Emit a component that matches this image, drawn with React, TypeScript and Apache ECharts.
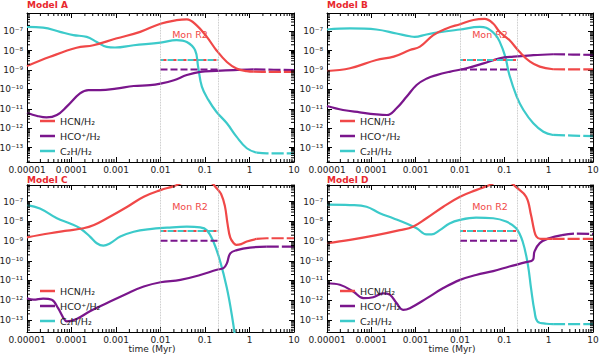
import React, { useEffect, useRef } from "react";
import * as echarts from "echarts";

type Pt = [number, number];

// ---- Model A ----
const HCN_A: Pt[] = [[1e-5,1.6e-9],[3.3e-5,4.8e-9],[1.3e-4,1.4e-8],[3.1e-4,1.9e-8],[1e-3,4.2e-8],[3.5e-3,9.3e-8],[1e-2,2.45e-7],[2.3e-2,3.7e-7],[3.9e-2,4.1e-7],[6.5e-2,2.0e-7],[0.11,5.1e-8],[0.18,1.05e-8],[0.31,2.6e-9],[0.51,1.2e-9],[0.87,8.7e-10],[1.25,8.2e-10],[2.45,8.1e-10],[10,8.1e-10]];
const C2H_A: Pt[] = [[1e-5,1.66e-7],[2.3e-5,1.55e-7],[5.5e-5,9.3e-8],[1.1e-4,6.3e-8],[2.2e-4,5.1e-8],[3.7e-4,2.8e-8],[6.2e-4,1.55e-8],[9.5e-4,1.45e-8],[2.5e-3,1.9e-8],[1e-2,2.6e-8],[2.3e-2,3.5e-8],[3.9e-2,2.8e-8],[6e-2,1.05e-8],[7e-2,1.5e-9],[8.5e-2,1.4e-10],[0.12,2.8e-11],[0.18,7.1e-12],[0.31,1.8e-12],[0.51,3.7e-13],[0.87,9.3e-14],[1.45,5.5e-14],[2.45,5.1e-14],[10,5.1e-14]];
const HCOP_A: Pt[] = [[1e-5,6.3e-12],[1.7e-5,4.3e-12],[2.75e-5,3.6e-12],[4.7e-5,4.8e-12],[7.8e-5,1.3e-11],[1.55e-4,6.2e-11],[2.4e-4,9.3e-11],[4.4e-4,9.3e-11],[1e-3,1.1e-10],[2.5e-3,1.5e-10],[5.8e-3,1.65e-10],[1e-2,2.0e-10],[2e-2,3.0e-10],[3.9e-2,5.5e-10],[7.8e-2,8.1e-10],[0.18,9.1e-10],[0.44,1.0e-9],[1.23,1.07e-9],[10,1.0e-9]];

// ---- Model B ----
const HCN_B: Pt[] = [[1e-5,8.9e-10],[3.3e-5,1.23e-9],[1.3e-4,3.3e-9],[3.2e-4,4.9e-9],[7.4e-4,1.07e-8],[1.25e-3,1.6e-8],[2.5e-3,6.3e-8],[5e-3,1.4e-7],[1e-2,2.3e-7],[2e-2,3.8e-7],[3.6e-2,4.3e-7],[5.6e-2,2.5e-7],[7.8e-2,9.3e-8],[0.13,3.5e-8],[0.22,8.7e-9],[0.38,2.7e-9],[0.63,1.5e-9],[1.26,1.1e-9],[10,1.07e-9]];
const C2H_B: Pt[] = [[1e-5,1.23e-7],[3.3e-5,1.4e-7],[1.3e-4,1.23e-7],[3.7e-4,7.6e-8],[7.4e-4,5.5e-8],[9.5e-4,5.1e-8],[1.75e-3,6.8e-8],[3.5e-3,8.9e-8],[1e-2,1.23e-7],[2.8e-2,1.66e-7],[3.9e-2,1.5e-7],[6.2e-2,6.8e-8],[7.8e-2,3.0e-8],[0.105,4.9e-9],[0.13,5.5e-10],[0.19,4.3e-11],[0.27,8.7e-12],[0.45,1.8e-12],[0.76,6.6e-13],[1.26,4.5e-13],[10,3.9e-13]];
const HCOP_B: Pt[] = [[1e-5,1.4e-11],[2.3e-5,8.7e-12],[5.5e-5,6.6e-12],[1.3e-4,5.2e-12],[2.25e-4,4.8e-12],[3.7e-4,1.07e-11],[6.3e-4,4.3e-11],[1.05e-3,1.7e-10],[1.8e-3,3.7e-10],[2.95e-3,5.5e-10],[5.8e-3,8.1e-10],[1.4e-2,1.23e-9],[3.4e-2,2.2e-9],[7.8e-2,4.0e-9],[0.16,4.9e-9],[0.45,5.8e-9],[1.26,6.5e-9],[10,6.0e-9]];

// ---- Model C ----
const HCN_C: Pt[] = [[1e-5,1.55e-9],[3.3e-5,2.5e-9],[8e-5,3.4e-9],[1.85e-4,4.5e-9],[3.2e-4,6.6e-9],[6.3e-4,1.45e-8],[1.8e-3,5.6e-8],[4.2e-3,1.8e-7],[1e-2,3.9e-7],[2e-2,6.2e-7],[3.5e-2,1.0e-6],[7.8e-2,1.26e-6],[0.14,8.9e-7],[0.18,5.0e-7],[0.23,2.5e-7],[0.28,6e-8],[0.32,8e-9],[0.37,1.5e-9],[0.45,7.5e-10],[0.5,6.5e-10],[0.65,7e-10],[0.87,9.5e-10],[1.45,1.3e-9],[2.45,1.4e-9],[10,1.4e-9]];
const C2H_C: Pt[] = [[1e-5,6.8e-8],[1.95e-5,4.6e-8],[4.7e-5,1.45e-8],[9.3e-5,7.9e-9],[1.55e-4,4.5e-9],[2.6e-4,1.7e-9],[3.7e-4,7.8e-10],[5.2e-4,5.9e-10],[7.4e-4,7.8e-10],[1.25e-3,1.7e-9],[2.5e-3,3.0e-9],[5.8e-3,4.1e-9],[1.4e-2,4.8e-9],[3.9e-2,5.4e-9],[7.8e-2,5.0e-9],[0.11,3.6e-9],[0.155,9.3e-10],[0.22,9.1e-11],[0.31,4.1e-12],[0.4,1.8e-13],[0.52,3.2e-15]];
const HCOP_C: Pt[] = [[1e-5,1.26e-12],[1.4e-5,1.05e-12],[2.3e-5,1.2e-12],[3.6e-5,1.05e-12],[5e-5,3.9e-13],[6.6e-5,1.23e-13],[7.8e-5,8.3e-14],[1.3e-4,1.1e-13],[2.6e-4,2.7e-13],[6.3e-4,7.1e-13],[1.8e-3,2.2e-12],[4.2e-3,4.9e-12],[1e-2,8.1e-12],[2.8e-2,1.07e-11],[7.8e-2,1.9e-11],[0.185,3.5e-11],[0.26,4.2e-11],[0.31,7.4e-11],[0.37,2.4e-10],[0.52,3.5e-10],[1.02,4.7e-10],[2.45,5.2e-10],[10,5.2e-10]];

// ---- Model D ----
const HCN_D: Pt[] = [[1e-5,7.8e-10],[3.3e-5,1.15e-9],[1.3e-4,2.0e-9],[4.4e-4,3.6e-9],[8.7e-4,5.4e-9],[1.75e-3,1.45e-8],[4.2e-3,5.6e-8],[1e-2,1.8e-7],[2.3e-2,3.9e-7],[4.7e-2,7.1e-7],[7.8e-2,1.1e-6],[0.14,9.0e-7],[0.18,5.8e-7],[0.31,1.8e-7],[0.4,2.1e-8],[0.47,3.6e-9],[0.53,1.7e-9],[0.66,1.3e-9],[1.23,1.3e-9],[10,1.3e-9]];
const C2H_D: Pt[] = [[1e-5,7.2e-8],[3.3e-5,6.8e-8],[7.8e-5,5.6e-8],[1.55e-4,2.6e-8],[3.1e-4,1.45e-8],[6.2e-4,7.9e-9],[1.05e-3,4.5e-9],[1.75e-3,2.2e-9],[2.3e-3,2.2e-9],[3.5e-3,3.6e-9],[5.8e-3,7.9e-9],[1e-2,1.2e-8],[2.3e-2,1.55e-8],[5.6e-2,1.45e-8],[0.11,9.8e-9],[0.185,4.5e-9],[0.26,9.3e-10],[0.34,6.2e-11],[0.4,4.1e-12],[0.48,2.7e-13],[0.56,8.3e-14],[0.89,6.3e-14],[1.26,6.0e-14],[10,6.0e-14]];
const HCOP_D: Pt[] = [[1e-5,7.2e-12],[1.95e-5,6.0e-12],[3.9e-5,2.75e-12],[6.6e-5,1.26e-12],[1.1e-4,1.4e-12],[1.85e-4,2.2e-12],[2.6e-4,1.9e-12],[3.7e-4,7.1e-13],[5.2e-4,3.2e-13],[7.4e-4,3.9e-13],[1.8e-3,1.26e-12],[4.2e-3,4.1e-12],[1e-2,1.07e-11],[2.3e-2,1.9e-11],[5.6e-2,3.0e-11],[0.13,5.1e-11],[0.31,8.5e-11],[0.44,1.1e-10],[0.48,3.0e-10],[0.63,7.9e-10],[1.02,1.4e-9],[2.0,2.0e-9],[4.1,2.4e-9],[10,2.3e-9]];

// ---- observations (Mon R2) ----
const OBS_T = [0.01, 0.2];
const OBS_HCN = 3.3e-9;
const OBS_C2H = 3.3e-9;
const OBS_HCOP = 1.05e-9;
const REGION_T = [0.01, 0.2];

// ---- ticks / labels ----
const X_TICK_EXP = [-5, -4, -3, -2, -1, 0, 1];
const X_TICK_LABELS = ["0.00001", "0.0001", "0.001", "0.01", "0.1", "1", "10"];
const Y_TICK_EXP = [-13, -12, -11, -10, -9, -8, -7];
const Y_TICK_LABELS = ["10⁻¹³", "10⁻¹²", "10⁻¹¹", "10⁻¹⁰", "10⁻⁹", "10⁻⁸", "10⁻⁷"];
const SERIES_NAMES = ["HCN/H₂", "HCO⁺/H₂", "C₂H/H₂"];
const MODEL_TITLES = ["Model A", "Model B", "Model C", "Model D"];

const RED = "#f04848";
const PURPLE = "#7a168c";
const CYAN = "#3ccaca";
const TITLE_RED = "#e8282e";
const FONT = "DejaVu Sans";

const X_MINOR: number[] = [];
for (let e = -5; e < 1; e++) for (let k = 2; k <= 9; k++) X_MINOR.push(k * Math.pow(10, e));
const Y_MINOR: number[] = [];
for (let e = -15; e < -5; e++) for (let k = 2; k <= 9; k++) Y_MINOR.push(k * Math.pow(10, e));

const PANELS = [
  { title: MODEL_TITLES[0], hcn: HCN_A, hcop: HCOP_A, c2h: C2H_A, grid: { left: 27, top: 13, width: 267, height: 149 }, yMin: 1.82e-14, yMax: 8.7e-7, time: false },
  { title: MODEL_TITLES[1], hcn: HCN_B, hcop: HCOP_B, c2h: C2H_B, grid: { left: 327, top: 13, width: 266, height: 149 }, yMin: 1.82e-14, yMax: 8.7e-7, time: false },
  { title: MODEL_TITLES[2], hcn: HCN_C, hcop: HCOP_C, c2h: C2H_C, grid: { left: 27, top: 185, width: 267, height: 147 }, yMin: 2.4e-14, yMax: 7.1e-7, time: true },
  { title: MODEL_TITLES[3], hcn: HCN_D, hcop: HCOP_D, c2h: C2H_D, grid: { left: 327, top: 185, width: 266, height: 147 }, yMin: 2.4e-14, yMax: 7.1e-7, time: true },
];

function splitTail(d: Pt[]): [Pt[], Pt[]] {
  const i = d.findIndex((p) => p[0] >= 1.2);
  if (i < 0) return [d, []];
  return [d.slice(0, i + 1), d.slice(i)];
}

function xLabel(v: number) {
  const e = Math.round(Math.log10(v));
  const i = X_TICK_EXP.indexOf(e);
  return i >= 0 ? X_TICK_LABELS[i] : "";
}
function yLabel(v: number) {
  const e = Math.round(Math.log10(v));
  if (Math.abs(Math.log10(v) - e) > 0.01) return "";
  const i = Y_TICK_EXP.indexOf(e);
  return i >= 0 ? Y_TICK_LABELS[i] : "";
}

function buildOption() {
  const grid: any[] = [];
  const xAxis: any[] = [];
  const yAxis: any[] = [];
  const series: any[] = [];
  const legend: any[] = [];
  const graphic: any[] = [];
  const tickStyle = { color: "#000", width: 1 };

  PANELS.forEach((p, i) => {
    grid.push({ ...p.grid, containLabel: false, outerBoundsMode: "none" });
    const baseX = {
      type: "log", logBase: 10, gridIndex: i, min: 1e-5, max: 10,
      axisLine: { show: true, onZero: false, lineStyle: tickStyle },
      axisTick: { show: true, inside: true, length: 5, lineStyle: tickStyle },
      splitLine: { show: false }, minorTick: { show: false },
    };
    xAxis.push({ ...baseX, position: "bottom",
      axisLabel: { formatter: xLabel, fontSize: 9, lineHeight: 9, color: "#222", fontFamily: FONT, margin: 3, showMinLabel: true, showMaxLabel: true } });
    xAxis.push({ ...baseX, position: "top", axisLabel: { show: false } });
    const baseY = {
      type: "log", logBase: 10, gridIndex: i, min: p.yMin, max: p.yMax,
      axisLine: { show: true, onZero: false, lineStyle: tickStyle },
      axisTick: { show: true, inside: true, length: 5, lineStyle: tickStyle },
      splitLine: { show: false }, minorTick: { show: false },
    };
    yAxis.push({ ...baseY, position: "left",
      axisLabel: { formatter: yLabel, fontSize: 9, color: "#222", fontFamily: FONT, margin: 4, showMinLabel: false, showMaxLabel: false } });
    yAxis.push({ ...baseY, position: "right", axisLabel: { show: false } });

    const xi = 2 * i, yi = 2 * i;
    const curves: [string, Pt[], string][] = [
      [SERIES_NAMES[2], p.c2h, CYAN],
      [SERIES_NAMES[1], p.hcop, PURPLE],
      [SERIES_NAMES[0], p.hcn, RED],
    ];
    curves.forEach(([name, d, color], k) => {
      const [main, tail] = splitTail(d);
      const s: any = {
        type: "line", name, xAxisIndex: xi, yAxisIndex: yi, data: main,
        symbol: "none", showSymbol: false, smooth: 0.4, clip: true, silent: true, z: 2,
        color, lineStyle: { color, width: 2.2 },
      };
      if (k === 2) {
        s.markLine = {
          silent: true, symbol: ["none", "none"], label: { show: false },
          lineStyle: { color: "#b4b4b4", type: "dotted", width: 0.8 },
          emphasis: { disabled: true },
          data: REGION_T.map((t) => ({ xAxis: t })),
        };
      }
      series.push(s);
      if (tail.length > 1) {
        series.push({
          type: "line", name: name + " tail", xAxisIndex: xi, yAxisIndex: yi, data: tail,
          symbol: "none", smooth: 0.4, clip: true, silent: true, z: 2,
          color, lineStyle: { color, width: 2.2, type: [12, 3] },
        });
      }
    });
    series.push({
      type: "line", name: "obs HCN", xAxisIndex: xi, yAxisIndex: yi,
      data: OBS_T.map((t) => [t, OBS_HCN]), symbol: "none", silent: true, z: 3,
      lineStyle: { color: RED, width: 2, type: [6, 4] },
    });
    series.push({
      type: "line", name: "obs C2H", xAxisIndex: xi, yAxisIndex: yi,
      data: OBS_T.map((t) => [t, OBS_C2H]), symbol: "none", silent: true, z: 3,
      lineStyle: { color: CYAN, width: 2, type: [6, 4], dashOffset: 3 },
    });
    series.push({
      type: "line", name: "obs HCO+", xAxisIndex: xi, yAxisIndex: yi,
      data: OBS_T.map((t) => [t, OBS_HCOP]), symbol: "none", silent: true, z: 3,
      lineStyle: { color: PURPLE, width: 2, type: [7, 3] },
    });
    // minor ticks on all four sides
    series.push({
      type: "custom", name: "minor", xAxisIndex: xi, yAxisIndex: yi, silent: true, clip: false, z: 4,
      data: [[1e-3, 1e-9]],
      renderItem: (params: any, api: any) => {
        const cs = params.coordSys;
        const x0 = cs.x, x1 = cs.x + cs.width, y0 = cs.y, y1 = cs.y + cs.height;
        const children: any[] = [];
        const st = { stroke: "#000", lineWidth: 1 };
        X_MINOR.forEach((v) => {
          const px = api.coord([v, 1e-9])[0];
          if (px < x0 || px > x1) return;
          children.push({ type: "line", shape: { x1: px, y1: y1, x2: px, y2: y1 - 3 }, style: st });
          children.push({ type: "line", shape: { x1: px, y1: y0, x2: px, y2: y0 + 3 }, style: st });
        });
        Y_MINOR.forEach((v) => {
          const py = api.coord([1, v])[1];
          if (py < y0 || py > y1) return;
          children.push({ type: "line", shape: { x1: x0, y1: py, x2: x0 + 3, y2: py }, style: st });
          children.push({ type: "line", shape: { x1: x1, y1: py, x2: x1 - 3, y2: py }, style: st });
        });
        return { type: "group", children };
      },
    });

    legend.push({
      data: SERIES_NAMES.map((name) => ({ name, icon: "rect" })),
      orient: "vertical",
      left: p.grid.left + 13,
      top: p.grid.top + p.grid.height - 47,
      itemWidth: 15, itemHeight: 2.5, itemGap: 3, padding: 0,
      selectedMode: false,
      textStyle: { fontSize: 9.5, lineHeight: 12, color: "#222", fontFamily: FONT },
    });

    graphic.push({
      type: "text", x: p.grid.left, y: p.grid.top - (p.time ? 5.5 : 8), silent: true,
      style: { text: p.title, fill: TITLE_RED, font: `bold 9px "${FONT}"`, lineHeight: 8, align: "left", verticalAlign: "middle" },
    });
    graphic.push({
      type: "text", x: p.grid.left + 163, y: p.grid.top + 21, silent: true,
      style: { text: "Mon R2", fill: RED, font: `9.5px "${FONT}"`, align: "center", verticalAlign: "middle" },
    });
    if (p.time) {
      graphic.push({
        type: "text", x: p.grid.left + 125, y: p.grid.top + p.grid.height + 17, silent: true,
        style: { text: "time (Myr)", fill: "#222", font: `9px "${FONT}"`, align: "center", verticalAlign: "middle" },
      });
    }
  });

  return {
    animation: false,
    backgroundColor: "#ffffff",
    textStyle: { fontFamily: FONT },
    grid, xAxis, yAxis, series, legend, graphic,
  };
}

export default function App() {
  const ref = useRef<HTMLDivElement>(null);
  useEffect(() => {
    const chart = echarts.init(ref.current as HTMLDivElement, null, { renderer: "svg" });
    chart.setOption(buildOption() as any);
    return () => chart.dispose();
  }, []);
  return (
    <div
      ref={ref}
      style={{ position: "fixed", left: 0, top: 0, width: 600, height: 356, background: "#fff" }}
    />
  );
}
